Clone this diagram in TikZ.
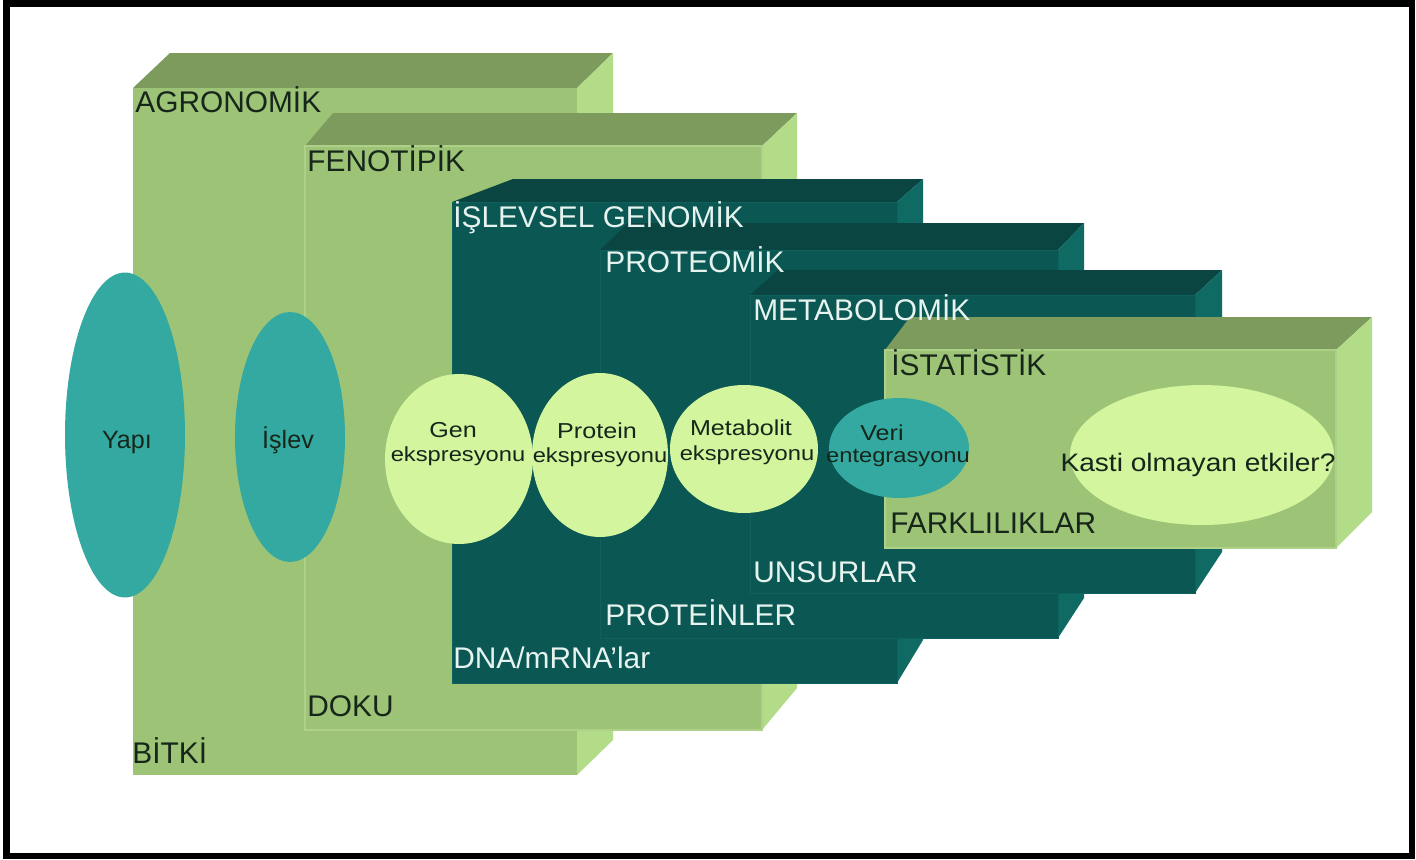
\documentclass[tikz,border=0pt]{standalone}
\usepackage{fontspec}
\setmainfont{Liberation Sans}
\usetikzlibrary{shapes.geometric}
\definecolor{lgfront}{HTML}{9DC476}
\definecolor{lgtop}{HTML}{7C9B5C}
\definecolor{lgside}{HTML}{B2DC88}
\definecolor{lgedge}{HTML}{AED189}
\definecolor{dkfront}{HTML}{0B5754}
\definecolor{dktop}{HTML}{0A4541}
\definecolor{dkside}{HTML}{0F6A64}
\definecolor{dkedge}{HTML}{0E615D}
\definecolor{tealell}{HTML}{33A9A1}
\definecolor{paleell}{HTML}{D3F59E}
\definecolor{darktext}{HTML}{17261A}
\definecolor{lighttext}{HTML}{E6F3EF}
\newcommand{\sqz}[1]{\scalebox{1}[0.86]{#1}}
\begin{document}
\begin{tikzpicture}[x=0.02cm,y=-0.02cm,
  boxlbl/.style={anchor=base west, inner sep=0, font=\fontsize{17}{20}\selectfont},
  onlight/.style={boxlbl, text=darktext},
  ondark/.style={boxlbl, text=lighttext},
  ell/.style={ellipse, inner sep=0, draw=none},
  tealshape/.style={ell, fill=tealell},
  paleshape/.style={ell, fill=paleell},
  elltxt/.style={inner sep=0, anchor=base, font=\fontsize{14.3}{16}\selectfont, text=darktext},
  elltxtb/.style={elltxt, font=\fontsize{13.5}{16}\selectfont},
  lgfrontface/.style={fill=lgfront, draw=lgedge, line width=0.6pt},
  dkfrontface/.style={fill=dkfront, draw=dkedge, line width=0.5pt},
]
\useasboundingbox (0,0) rectangle (1416,859);
\fill[white] (0,0) rectangle (1416,859);

% Box 1: AGRONOMIK / BITKI
\fill[lgtop] (133,88) -- (170,53) -- (613,53) -- (577,88) -- cycle;
\fill[lgside] (577,88) -- (613,53) -- (613,740) -- (577,775) -- cycle;
\fill[lgfront] (133,88) rectangle (577,775);

% Box 2: FENOTIPIK / DOKU
\fill[lgtop] (305,146) -- (333,113) -- (797,113) -- (762,146) -- cycle;
\fill[lgside] (762,146) -- (797,113) -- (797,688) -- (762,730) -- cycle;
\path[lgfrontface] (305,146) rectangle (762,730);

% Box 3: ISLEVSEL GENOMIK / DNA
\fill[dktop] (452,202) -- (513,179) -- (923,179) -- (897,202) -- cycle;
\fill[dkside] (897,202) -- (923,179) -- (923,640) -- (897,683) -- cycle;
\path[dkfrontface] (452,202) rectangle (897,683);

% Box 4: PROTEOMIK / PROTEINLER
\fill[dktop] (600,250) -- (628,223) -- (1084,223) -- (1058,250) -- cycle;
\fill[dkside] (1058,250) -- (1084,223) -- (1084,598) -- (1058,638) -- cycle;
\path[dkfrontface] (600,250) rectangle (1058,638);

% Box 5: METABOLOMIK / UNSURLAR
\fill[dktop] (750,295) -- (778,270) -- (1222,270) -- (1195,295) -- cycle;
\fill[dkside] (1195,295) -- (1222,270) -- (1222,552) -- (1195,593) -- cycle;
\path[dkfrontface] (750,295) rectangle (1195,593);

% Box 6: ISTATISTIK / FARKLILIKLAR
\fill[lgtop] (885,350) -- (910,317) -- (1372,317) -- (1336,350) -- cycle;
\fill[lgside] (1336,350) -- (1372,317) -- (1372,512) -- (1336,548) -- cycle;
\path[lgfrontface] (885,350) rectangle (1336,548);

% Box labels
\node[onlight] (agro) at (135,112) {AGRONOM\.{I}K};
\node[onlight] (bitki) at (132,763) {B\.{I}TK\.{I}};
\node[onlight] (feno) at (307,171) {FENOT\.{I}P\.{I}K};
\node[onlight] (doku) at (307,716) {DOKU};
\node[ondark] (islevsel) at (453,227) {\.{I}ŞLEVSEL GENOM\.{I}K};
\node[ondark] (dna) at (453,668) {DNA/mRNA’lar};
\node[ondark] (proteomik) at (605,272) {PROTEOM\.{I}K};
\node[ondark] (proteinler) at (605,625) {PROTE\.{I}NLER};
\node[ondark] (metabolomik) at (753,320) {METABOLOM\.{I}K};
\node[ondark] (unsurlar) at (753,582) {UNSURLAR};
\node[onlight] (istatistik) at (891,375) {\.{I}STAT\.{I}ST\.{I}K};
\node[onlight] (farkliliklar) at (890,533) {FARKLILIKLAR};

% Ellipses
\node[tealshape, minimum width=2.4cm, minimum height=6.5cm] (yapi) at (125,435) {};
\node[tealshape, minimum width=2.2cm, minimum height=5.0cm] (islev) at (290,437) {};
\node[paleshape, minimum width=2.96cm, minimum height=3.4cm] (gen) at (459,459) {};
\node[paleshape, minimum width=2.72cm, minimum height=3.28cm] (protein) at (600,455) {};
\node[paleshape, minimum width=2.96cm, minimum height=2.56cm] (metab) at (744,449) {};
\node[tealshape, minimum width=2.8cm, minimum height=2.0cm] (veri) at (899,448) {};
\node[paleshape, minimum width=5.28cm, minimum height=2.8cm] (kasti) at (1202,455) {};

% Ellipse texts
\node[elltxt] (yapit) at (127,448) {Yapı};
\node[elltxt] (islevt) at (288,448) {\.{I}şlev};
\node[elltxt] (gent1) at (453,437) {\sqz{Gen}};
\node[elltxtb] (gent2) at (458,461) {\sqz{ekspresyonu}};
\node[elltxt] (prott1) at (597,438) {\sqz{Protein}};
\node[elltxtb] (prott2) at (600,462) {\sqz{ekspresyonu}};
\node[elltxt] (metabt1) at (741,435) {\sqz{Metabolit}};
\node[elltxtb] (metabt2) at (747,460) {\sqz{ekspresyonu}};
\node[elltxt] (verit1) at (882,440) {\sqz{Veri}};
\node[elltxtb] (verit2) at (898,462) {\sqz{entegrasyonu}};
\node[elltxt, font=\fontsize{16}{18}\selectfont] (kastit) at (1198,471) {\scalebox{1}[0.9]{Kasti olmayan etkiler?}};

% Frame
\draw[line width=3.6pt] (6.5,3.5) rectangle (1412,856);
\end{tikzpicture}
\end{document}
